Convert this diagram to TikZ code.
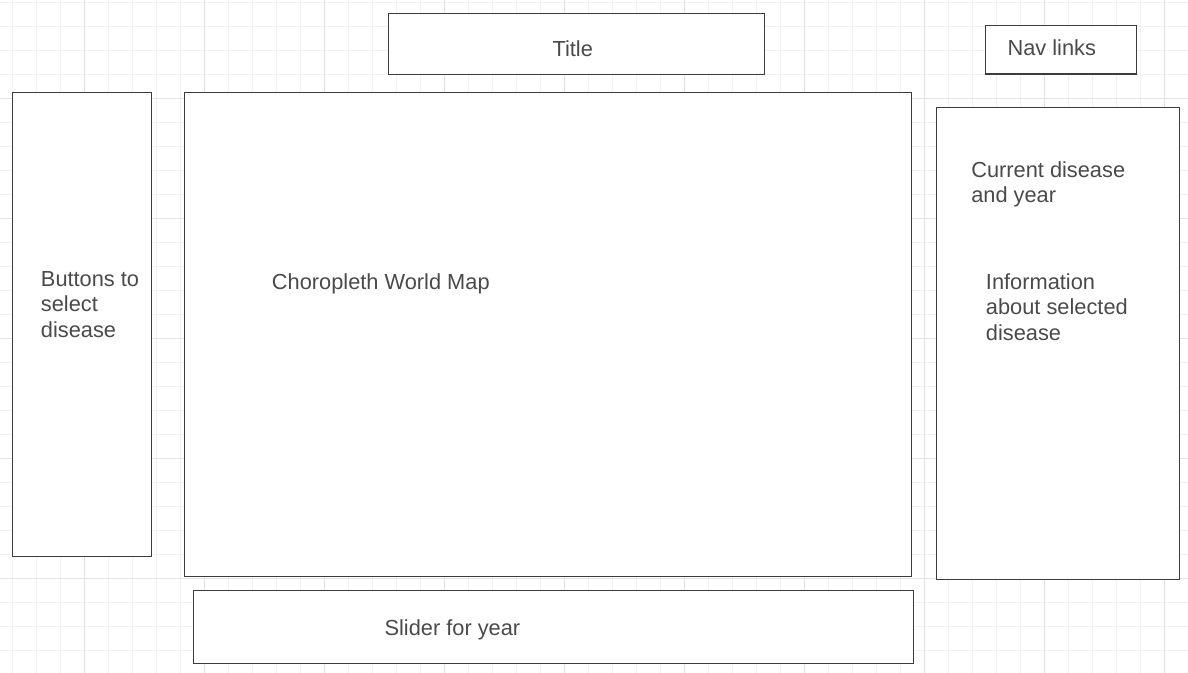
\documentclass[tikz,border=0pt]{standalone}
\usepackage{fontspec}
\setmainfont{Liberation Sans}
\definecolor{minorgrid}{HTML}{F2F2F2}
\definecolor{majorgrid}{HTML}{E3E3E3}
\definecolor{boxline}{HTML}{3C3C3C}
\definecolor{txt}{HTML}{4A4A4A}
\begin{document}
\begin{tikzpicture}[x=0.75pt,y=-0.75pt,
  box/.style={draw=boxline, fill=white, line width=0.9pt, inner sep=0pt, outer sep=0pt, rectangle},
  lbl/.style={text=txt, font=\fontsize{16.35}{19.1}\selectfont, inner sep=0pt, align=left, anchor=base west},
  minorline/.style={draw=minorgrid, line width=0.75pt},
  majorline/.style={draw=majorgrid, line width=0.75pt}]
\useasboundingbox (0,0) rectangle (1188,673);
\fill[white] (0,0) rectangle (1188,673);
% grid
\foreach \i in {0,...,48} { \draw[minorline] ({12.7+24*\i},0) -- ({12.7+24*\i},673); }
\foreach \i in {0,...,27} { \draw[minorline] (0,{2.7+24*\i}) -- (1188,{2.7+24*\i}); }
\foreach \i in {0,...,9} { \draw[majorline] ({84.7+120*\i},0) -- ({84.7+120*\i},673); }
\foreach \i in {0,...,4} { \draw[majorline] (0,{98.7+120*\i}) -- (1188,{98.7+120*\i}); }
% boxes
\node[box, minimum width=0.75*376.4pt, minimum height=0.75*61pt] (titlebox) at (576.5,43.8) {};
\node[box, minimum width=0.75*151.4pt, minimum height=0.75*48.7pt] (navbox) at (1061,49.65) {};
\node[box, minimum width=0.75*139.4pt, minimum height=0.75*464.2pt] (buttonsbox) at (82,324.4) {};
\node[box, minimum width=0.75*727.4pt, minimum height=0.75*484pt] (mapbox) at (548,334.3) {};
\node[box, minimum width=0.75*243pt, minimum height=0.75*472pt] (infobox) at (1057.8,343.3) {};
\node[box, minimum width=0.75*720pt, minimum height=0.75*73pt] (sliderbox) at (553.3,626.8) {};
% labels (base anchor = baseline of the last line)
\node[lbl] (titletext) at (552.3,56.7) {Title};
\node[lbl] (navtext) at (1007.3,55.7) {Nav links};
\node[lbl] (buttonstext) at (40.7,337.3) {Buttons to\\select\\disease};
\node[lbl] (maptext) at (271.7,289.3) {Choropleth World Map};
\node[lbl] (currenttext) at (971,202.7) {Current disease\\and year};
\node[lbl] (infotext) at (985.7,340) {Information\\about selected\\disease};
\node[lbl] (slidertext) at (384.3,635.7) {Slider for year};
\end{tikzpicture}
\end{document}
